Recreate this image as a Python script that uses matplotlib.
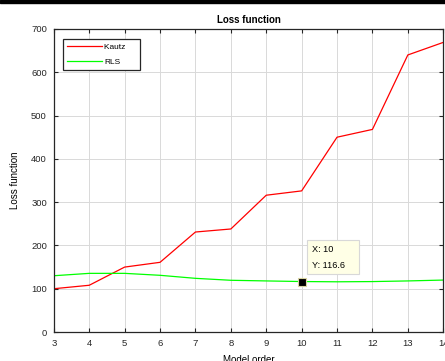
import matplotlib
matplotlib.use("Agg")
import matplotlib.pyplot as plt
from matplotlib.patches import Rectangle

plt.rcParams["font.family"] = ["Liberation Sans", "DejaVu Sans"]

# model orders and loss values
order = [3, 4, 5, 6, 7, 8, 9, 10, 11, 12, 13, 14]
kautz = [100, 108, 150, 161, 231, 238, 316, 326, 450, 468, 640, 669]
rls = [130, 135.5, 135.5, 131, 124, 119.5, 118, 116.6, 116, 116.5, 118, 120]

# data tip
tip_x = 10
tip_y = 116.6

fig = plt.figure(figsize=(4.45, 3.61), dpi=100)
# black strip across the top of the window
fig.patches.append(Rectangle((0, 0.991), 1, 0.009, transform=fig.transFigure,
                             color="black", zorder=10))

ax = fig.add_axes([0.121, 0.0803, 0.875, 0.8394])
ax.plot(order, kautz, color="red", lw=0.9, label="Kautz    ")
ax.plot(order, rls, color="#00ff00", lw=0.9, label="RLS")

ax.plot(tip_x, tip_y, marker="s", ms=5.5, color="black", mec="#d8d4a0", mew=0.8,
        zorder=5)
ax.annotate("X: %d\nY: %.1f    " % (tip_x, tip_y), xy=(tip_x, tip_y),
            xytext=(10, 12), textcoords="offset pixels", fontsize=6.6,
            linespacing=1.95, va="bottom", ha="left",
            bbox=dict(boxstyle="square,pad=0.5", fc="#ffffe6", ec="#d8d8d8", lw=0.8))

ax.set_xlim(3, 14)
ax.set_ylim(0, 700)
ax.set_xticks(order)
ax.set_yticks(range(0, 701, 100))
ax.grid(True, color="#d9d9d9", lw=0.7)
ax.tick_params(direction="in", top=True, right=True, labelsize=6.8,
               length=3, width=0.8, colors="#262626", pad=5)
for s in ax.spines.values():
    s.set_linewidth(0.9)
    s.set_color("#262626")

ax.set_title("Loss function", fontsize=7, fontweight="bold", pad=4.5)
ax.set_xlabel("Model order", fontsize=7, labelpad=5)
ax.set_ylabel("Loss function", fontsize=7, labelpad=8)

leg = ax.legend(loc="upper left", bbox_to_anchor=(0.023, 0.967), borderaxespad=0,
                fontsize=6, handlelength=4.2, fancybox=False, edgecolor="#262626",
                framealpha=1, borderpad=0.5, labelspacing=0.85, handletextpad=0.3)
leg.get_frame().set_linewidth(0.9)

fig.savefig("out.png", dpi=100)
